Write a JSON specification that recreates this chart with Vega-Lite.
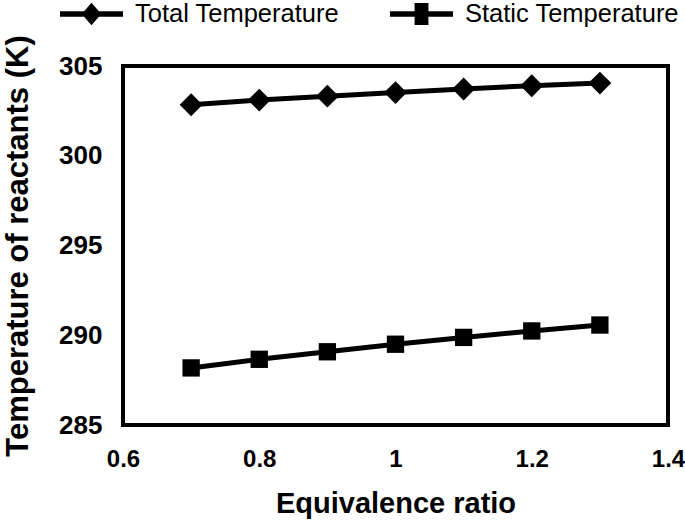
{
  "$schema": "https://vega.github.io/schema/vega-lite/v6.json",
  "autosize": {"type": "none"},
  "width": 545,
  "height": 359,
  "padding": {"left": 123, "top": 66, "right": 17, "bottom": 101},
  "background": "white",
  "config": {
    "font": "Liberation Sans",
    "view": {"stroke": "black", "strokeWidth": 4},
    "axis": {"grid": false, "ticks": false, "tickSize": 0, "domain": false, "labelFlush": false, "labelColor": "black", "titleColor": "black", "labelFont": "Liberation Sans", "titleFont": "Liberation Sans"}
  },
  "data": {
    "values": [
      {"phi": 0.7, "series": "Total Temperature", "T": 302.84},
      {"phi": 0.8, "series": "Total Temperature", "T": 303.1},
      {"phi": 0.9, "series": "Total Temperature", "T": 303.32},
      {"phi": 1.0, "series": "Total Temperature", "T": 303.52},
      {"phi": 1.1, "series": "Total Temperature", "T": 303.72},
      {"phi": 1.2, "series": "Total Temperature", "T": 303.9},
      {"phi": 1.3, "series": "Total Temperature", "T": 304.05},
      {"phi": 0.7, "series": "Static Temperature", "T": 288.18},
      {"phi": 0.8, "series": "Static Temperature", "T": 288.66},
      {"phi": 0.9, "series": "Static Temperature", "T": 289.08},
      {"phi": 1.0, "series": "Static Temperature", "T": 289.5},
      {"phi": 1.1, "series": "Static Temperature", "T": 289.88},
      {"phi": 1.2, "series": "Static Temperature", "T": 290.24},
      {"phi": 1.3, "series": "Static Temperature", "T": 290.57}
    ]
  },
  "encoding": {
    "x": {
      "field": "phi", "type": "quantitative",
      "scale": {"domain": [0.6, 1.4], "nice": false, "zero": false},
      "axis": {"values": [0.6, 0.8, 1.0, 1.2, 1.4], "format": "~g", "labelFontSize": 24, "labelFontWeight": "bold", "labelPadding": 22, "title": "Equivalence ratio", "titleFontSize": 29, "titleFontWeight": "bold", "titlePadding": 18}
    },
    "y": {
      "field": "T", "type": "quantitative",
      "scale": {"domain": [285, 305], "nice": false, "zero": false},
      "axis": {"values": [285, 290, 295, 300, 305], "labelFontSize": 26, "labelFontWeight": "bold", "labelPadding": 21, "title": "Temperature of reactants (K)", "titleFontSize": 31, "titleFontWeight": "bold", "titlePadding": 24}
    }
  },
  "layer": [
    {
      "mark": {"type": "line", "color": "black", "strokeWidth": 5},
      "encoding": {"detail": {"field": "series"}}
    },
    {
      "mark": {"type": "point", "filled": true, "color": "black", "opacity": 1},
      "encoding": {
        "shape": {"field": "series", "type": "nominal", "scale": {"domain": ["Total Temperature", "Static Temperature"], "range": ["diamond", "square"]}, "legend": null},
        "size": {"field": "series", "type": "nominal", "scale": {"domain": ["Total Temperature", "Static Temperature"], "range": [520, 300]}, "legend": null}
      }
    },
    {
      "mark": {"type": "point", "filled": true, "color": "black", "opacity": 0},
      "encoding": {
        "shape": {
          "field": "series", "type": "nominal",
          "scale": {"domain": ["Total Temperature", "Static Temperature"], "range": ["M-1,-0.09H1V0.09H-1Z M0,-0.36L0.31,0L0,0.36L-0.31,0Z", "M-1,-0.09H1V0.09H-1Z M-0.22,-0.35H0.22V0.35H-0.22Z"]},
          "legend": {"title": null, "orient": "none", "legendX": -63, "legendY": -83.5, "direction": "horizontal", "columns": 2, "columnPadding": 50, "padding": 0, "symbolSize": 3969, "symbolOpacity": 1, "symbolFillColor": "black", "symbolStrokeWidth": 0, "labelFontSize": 25.5, "labelFont": "Liberation Sans", "labelColor": "black", "labelOffset": 12, "labelLimit": 0}
        },
        "size": {"value": 100}
      }
    }
  ],
  "resolve": {"scale": {"shape": "independent", "size": "independent"}}
}
